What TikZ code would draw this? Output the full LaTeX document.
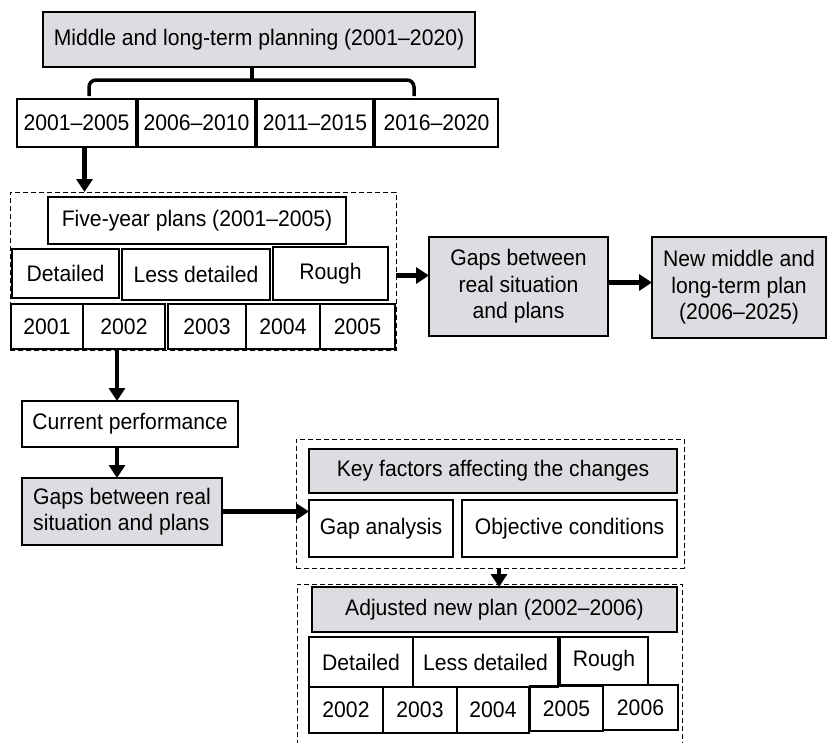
\documentclass[tikz,border=0pt]{standalone}
\usepackage{fontspec}
\setmainfont[FakeStretch=0.94]{Liberation Sans}
\usetikzlibrary{arrows.meta}
\definecolor{boxgray}{RGB}{220,221,224}

\begin{document}
\begin{tikzpicture}[x=1pt,y=-1pt,
  box/.style={draw,line width=1.1pt,inner sep=0pt,outer sep=0pt,font=\fontsize{22.5}{26.5}\selectfont},
  graybox/.style={box,fill=boxgray},
  frame/.style={draw,dash pattern=on 5pt off 3pt,line width=1pt,inner sep=0pt,outer sep=0pt},
  arr/.style={line width=4.5pt,-{Triangle[length=13pt,width=16pt]}},
  brace/.style={line width=3.5pt,rounded corners=7pt}]
\useasboundingbox (0,0) rectangle (827,742);
% long-term plan and its four periods
\node[graybox,minimum width=432,minimum height=55] (top) at (259,39.5) {Middle and long-term planning (2001–2020)};
\node[box,minimum width=119,minimum height=48] (r1) at (76.5,123) {2001–2005};
\node[box,minimum width=117,minimum height=48] (r2) at (196.5,123) {2006–2010};
\node[box,minimum width=116,minimum height=48] (r3) at (315,123) {2011–2015};
\node[box,minimum width=123,minimum height=48] (r4) at (436.5,123) {2016–2020};
\draw[brace] (89,96) |- (252,80);
\draw[brace] (414,96) |- (252,80);
\draw[line width=3.5pt] (252,80) -- (252,67);
% five-year plans
\node[frame,minimum width=386,minimum height=158] (dash1) at (203,271) {};
\node[box,minimum width=298,minimum height=47] (five) at (197,220.5) {Five-year plans (2001–2005)};
\node[box,minimum width=107,minimum height=49] (det) at (65.5,273.5) {Detailed};
\node[box,minimum width=148,minimum height=51] (less) at (196,274.5) {Less detailed};
\node[box,minimum width=115,minimum height=53] (rough) at (330.5,273.5) {Rough};
\node[box,minimum width=72,minimum height=45] (y1) at (47,326.5) {2001};
\node[box,minimum width=82,minimum height=45] (y2) at (124,326.5) {2002};
\node[box,minimum width=78,minimum height=45] (y3) at (207,326.5) {2003};
\node[box,minimum width=74,minimum height=45] (y4) at (283,326.5) {2004};
\node[box,minimum width=75,minimum height=45] (y5) at (357.5,326.5) {2005};
\node[graybox,minimum width=179,minimum height=99,align=center] (gaps) at (518.5,286.5) {Gaps between\\real situation\\and plans};
\node[graybox,minimum width=174,minimum height=101,align=center] (new) at (739,287.5) {New middle and\\long-term plan\\(2006–2025)};
% current performance
\node[box,minimum width=216,minimum height=46] (cur) at (130,424) {Current performance};
\node[graybox,minimum width=200,minimum height=67,align=left] (gapsb) at (122,511.5) {Gaps between real\\situation and plans};
% key factors
\node[frame,minimum width=388,minimum height=129] (dash2) at (490,503.5) {};
\node[graybox,minimum width=368,minimum height=44] (key) at (493,471) {Key factors affecting the changes};
\node[box,minimum width=144,minimum height=57] (gapan) at (381,528.5) {Gap analysis};
\node[box,minimum width=215,minimum height=57] (obj) at (569.5,528.5) {Objective conditions};
% adjusted plan
\draw[dash pattern=on 5pt off 3pt,line width=1pt] (297,745) |- (682,584) -- (682,745);
\node[graybox,minimum width=365,minimum height=45] (adj) at (494.5,609.5) {Adjusted new plan (2002–2006)};
\node[box,minimum width=104,minimum height=50] (detb) at (361,662) {Detailed};
\node[box,minimum width=145,minimum height=50] (lessb) at (485.5,662) {Less detailed};
\node[box,minimum width=88,minimum height=48] (roughb) at (604,661) {Rough};
\node[box,minimum width=74,minimum height=46] (z2) at (346,710) {2002};
\node[box,minimum width=74,minimum height=46] (z3) at (420,710) {2003};
\node[box,minimum width=72,minimum height=46] (z4) at (493,710) {2004};
\node[box,minimum width=73,minimum height=45] (z5) at (566.5,708.5) {2005};
\node[box,minimum width=75,minimum height=45] (z6) at (640.5,707.5) {2006};
% arrows
\draw[arr] ([xshift=8pt]r1.south) -- ([xshift=8pt]r1.south |- dash1.north);
\draw[arr] ([yshift=-2pt]rough.east -| dash1.east) -- ([yshift=-2pt]rough.east -| gaps.west);
\draw[arr] ([yshift=4pt]gaps.east) -- ([yshift=4pt]gaps.east -| new.west);
\draw[arr] ([xshift=-13pt]cur.north |- dash1.south) -- ([xshift=-13pt]cur.north);
\draw[arr] ([xshift=-13pt]cur.south) -- ([xshift=-13pt]cur.south |- gapsb.north);
\draw[arr] (gapsb.east) -- (gapsb.east -| gapan.west);
\draw[arr] ([xshift=4.5pt]adj.north |- dash2.south) -- ([xshift=4.5pt]adj.north);
\end{tikzpicture}
\end{document}
